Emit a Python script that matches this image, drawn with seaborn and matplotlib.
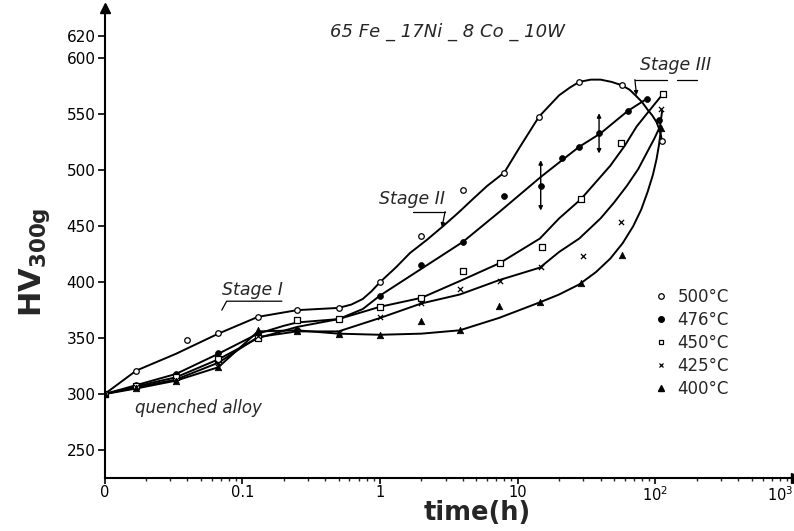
import numpy as np
import pandas as pd
import matplotlib
matplotlib.use("Agg")
import matplotlib.pyplot as plt
import seaborn as sns
from matplotlib.lines import Line2D
from matplotlib.ticker import FixedLocator, LogLocator, NullFormatter

sns.set_style("ticks")
plt.rcParams['font.family'] = ['DejaVu Sans']

# ---------------- data ----------------
TITLE = "65 Fe _ 17Ni _ 8 Co _ 10W"
temps = ["500°C", "476°C", "450°C", "425°C", "400°C"]
T_ORIGIN = 0.01          # position on the log axis where "0" is drawn

# measured points (time in h, HV300g)
m500_t = [0, 0.017, 0.04, 0.067, 0.13, 0.25, 0.5, 1, 2, 4, 8, 14.3, 28, 57, 112]
m500_hv = [300, 321, 348, 355, 369, 375, 377, 400, 441, 482, 498, 548, 579, 576, 526]

m476_t = [0, 0.017, 0.033, 0.067, 0.13, 0.25, 0.5, 1, 2, 4, 8, 14.7, 21, 28, 39, 63, 87, 106]
m476_hv = [300, 308, 318, 337, 354, 357, 367, 388, 415, 436, 477, 486, 511, 521, 533, 553, 564, 545]

m450_t = [0, 0.017, 0.033, 0.067, 0.13, 0.25, 0.5, 1, 2, 4, 7.4, 15, 29, 56, 113]
m450_hv = [300, 307, 315, 331, 350, 366, 367, 378, 386, 410, 417, 431, 474, 524, 568]

m425_t = [0, 0.017, 0.033, 0.067, 0.13, 0.25, 0.5, 1, 2, 3.8, 7.4, 14.7, 30, 56, 110]
m425_hv = [300, 306, 313, 328, 352, 356, 355, 369, 381, 394, 401, 414, 423, 454, 555]

m400_t = [0, 0.017, 0.033, 0.067, 0.13, 0.25, 0.5, 1, 2, 3.8, 7.3, 14.5, 29, 57, 110]
m400_hv = [300, 305, 312, 324, 357, 356, 354, 353, 365, 357, 379, 382, 399, 424, 538]

# hand-drawn curves
c500_t = [0, 0.017, 0.033, 0.067, 0.13, 0.25, 0.5, 0.62, 0.75, 0.87, 1, 1.3, 1.65, 2.2, 2.87, 3.7, 4.7, 6, 8, 10.4,
          14.3, 20, 24, 28, 34, 40, 48, 57, 65, 73, 80, 88, 95, 102, 108, 112]
c500_hv = [300, 321, 336, 354, 369, 375, 377, 380, 385, 392, 400, 413, 426, 438, 450, 462, 474, 486, 498, 521,
           548, 567, 574, 579, 581, 581, 579, 576, 572, 566, 561, 554, 549, 543, 535, 526]

c476_t = [0, 0.017, 0.033, 0.067, 0.13, 0.2, 0.25, 0.5, 0.75, 1, 2, 4, 7.4, 14.7, 21, 28, 40, 63, 87]
c476_hv = [300, 308, 318, 336, 354, 361, 364, 367, 376, 388, 412, 436, 463, 494, 509, 521, 533, 553, 564]

c450_t = [0, 0.017, 0.033, 0.067, 0.13, 0.25, 0.5, 1, 2, 3.8, 7.4, 14.5, 20, 28.7, 47, 60, 73, 90, 113]
c450_hv = [300, 307, 315, 331, 350, 360, 367, 378, 386, 401, 417, 439, 457, 474, 504, 522, 539, 553, 568]

c425_t = [0, 0.017, 0.033, 0.067, 0.13, 0.25, 0.5, 1, 2, 3.8, 7.4, 14.5, 20, 28, 40, 50, 62, 75, 87, 98, 108, 112]
c425_hv = [300, 306, 313, 328, 351, 356, 356, 368, 381, 389, 402, 413, 427, 439, 457, 471, 486, 501, 516, 528, 539, 553]

c400_t = [0, 0.017, 0.033, 0.067, 0.13, 0.25, 0.5, 1, 2, 3.8, 7.3, 14.5, 20, 28, 37, 47, 58, 69, 79, 88, 96, 102, 106, 110]
c400_hv = [300, 305, 312, 324, 356, 357, 354, 353, 354, 357, 368, 382, 389, 398, 409, 421, 435, 450, 465, 481, 496, 510, 522, 537]

# error bars on the 476 °C series
err_t = [14.7, 39]
err_lo = [464, 515]
err_hi = [509, 551]

y_ticks = [250, 300, 350, 400, 450, 500, 550, 600, 620]
x_ticks = [T_ORIGIN, 0.1, 1, 10, 100, 1000]
x_ticklabels = ["0", "0.1", "1", "10", "10$^2$", "10$^3$"]


def xpos(t):
    t = np.asarray(t, dtype=float)
    return np.where(t == 0, T_ORIGIN, t)


# ---------------- figure ----------------
fig = plt.figure(figsize=(7.94, 5.31), dpi=100)
ax = fig.add_axes([0.1317, 0.0998, 0.8708, 0.8851])
ax.set_xscale("log")

series = [
    (m500_t, m500_hv, c500_t, c500_hv, dict(marker="o", s=16, facecolor="white", edgecolor="black", linewidth=0.9)),
    (m476_t, m476_hv, c476_t, c476_hv, dict(marker="o", s=18, color="black", edgecolor="black", linewidth=0.5)),
    (m450_t, m450_hv, c450_t, c450_hv, dict(marker="s", s=16, facecolor="white", edgecolor="black", linewidth=0.9)),
    (m425_t, m425_hv, c425_t, c425_hv, dict(marker="x", s=14, color="black", linewidth=0.9)),
    (m400_t, m400_hv, c400_t, c400_hv, dict(marker="^", s=22, color="black", edgecolor="black", linewidth=0.5)),
]

for mt, mhv, ct, chv, mk in series:
    curve = pd.DataFrame({"t": xpos(ct), "hv": chv})
    sns.lineplot(data=curve, x="t", y="hv", color="black", linewidth=1.4,
                 sort=False, estimator=None, ax=ax, zorder=2)
    pts = pd.DataFrame({"t": xpos(mt), "hv": mhv})
    sns.scatterplot(data=pts, x="t", y="hv", ax=ax, zorder=3, legend=False, **mk)

for t, lo, hi in zip(err_t, err_lo, err_hi):
    ax.annotate("", xy=(t, hi), xytext=(t, lo),
                arrowprops=dict(arrowstyle="<|-|>", color="black", lw=1.0,
                                mutation_scale=6, shrinkA=0, shrinkB=0))

# axes
ax.set_xlim(T_ORIGIN, 1050)
ax.set_ylim(225, 645)
ax.xaxis.set_major_locator(FixedLocator(x_ticks))
ax.set_xticklabels(x_ticklabels)
ax.get_xticklabels()[-1].set_horizontalalignment("right")
ax.xaxis.set_minor_locator(LogLocator(base=10, subs=np.arange(2, 10)))
ax.xaxis.set_minor_formatter(NullFormatter())
ax.set_yticks(y_ticks)
ax.set_yticklabels([str(v) for v in y_ticks])
ax.tick_params(axis="y", which="major", direction="out", length=5, width=1.2,
               labelsize=11, colors="black", pad=1.5)
ax.tick_params(axis="x", which="major", direction="out", length=4, width=1.2,
               labelsize=10.5, colors="black", pad=1)
ax.tick_params(axis="x", which="minor", direction="out", length=2.5, width=1.0)
for sp in ["top", "right"]:
    ax.spines[sp].set_visible(False)
for sp in ["left", "bottom"]:
    ax.spines[sp].set_linewidth(1.5)
    ax.spines[sp].set_color("black")
ax.plot(1, 0, ">", color="black", ms=7, transform=ax.transAxes, clip_on=False)
ax.plot(0, 1, "^", color="black", ms=7, transform=ax.transAxes, clip_on=False)

ax.set_xlabel("time(h)", fontsize=18.5, fontweight="bold")
ax.xaxis.set_label_coords(0.5386, -0.047)
ax.set_ylabel(r"HV$_{\mathbf{300g}}$", fontsize=22, fontweight="bold")
ax.yaxis.set_label_coords(-0.076, 0.46)

# texts
ax.text(3.07, 623.6, TITLE, fontsize=13, style="italic", ha="center", va="center")
ax.text(0.048, 288, "quenched alloy", fontsize=12, style="italic", ha="center", va="center")

ax.text(0.118, 393, "Stage I", fontsize=12.5, style="italic", ha="center", va="center")
ax.plot([0.071, 0.077, 0.194], [375, 383, 383], color="black", lw=0.9)

ax.text(1.71, 474, "Stage II", fontsize=12.5, style="italic", ha="center", va="center")
ax.plot([1.74, 2.97], [463, 463], color="black", lw=0.9)
ax.annotate("", xy=(2.82, 449), xytext=(2.97, 463),
            arrowprops=dict(arrowstyle="-|>", color="black", lw=0.9, mutation_scale=6,
                            shrinkA=0, shrinkB=0))

ax.text(141, 594, "Stage III", fontsize=12.5, style="italic", ha="center", va="center")
ax.plot([71, 121], [581, 581], color="black", lw=0.9)
ax.plot([143, 200], [581, 581], color="black", lw=0.9)
ax.annotate("", xy=(73, 567), xytext=(71, 581),
            arrowprops=dict(arrowstyle="-|>", color="black", lw=0.9, mutation_scale=6,
                            shrinkA=0, shrinkB=0))

# legend
handles = [
    Line2D([], [], ls="", marker="o", ms=4, mfc="white", mec="black", mew=0.9),
    Line2D([], [], ls="", marker="o", ms=4, mfc="black", mec="black"),
    Line2D([], [], ls="", marker="s", ms=3.5, mfc="white", mec="black", mew=0.9),
    Line2D([], [], ls="", marker="x", ms=3.5, color="black", mew=0.9),
    Line2D([], [], ls="", marker="^", ms=4, color="black"),
]
ax.legend(handles, temps, loc="upper left", bbox_to_anchor=(0.795, 0.405),
          frameon=False, fontsize=12, handlelength=0.8, handletextpad=0.6,
          labelspacing=0.3, borderpad=0, borderaxespad=0)

fig.savefig("out.png", dpi=100)
